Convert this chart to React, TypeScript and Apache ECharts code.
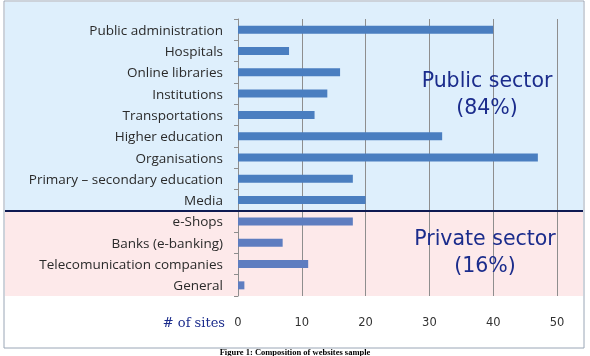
import React, { useEffect, useRef } from "react";
import * as echarts from "echarts";

const publicCategories = [
  "Public administration",
  "Hospitals",
  "Online libraries",
  "Institutions",
  "Transportations",
  "Higher education",
  "Organisations",
  "Primary – secondary education",
  "Media",
];
const publicValues = [40, 8, 16, 14, 12, 32, 47, 18, 20];

const privateCategories = [
  "e-Shops",
  "Banks (e-banking)",
  "Telecomunication companies",
  "General",
];
const privateValues = [18, 7, 11, 1];

const xTicks = [0, 10, 20, 30, 40, 50];

const publicLabel = ["Public sector", "(84%)"];
const privateLabel = ["Private sector", "(16%)"];
const axisTitle = "# of sites";
const caption = "Figure 1: Composition of websites sample";

export default function App() {
  const ref = useRef<HTMLDivElement>(null);
  useEffect(() => {
    if (!ref.current) return;
    const chart = echarts.init(ref.current, undefined, { renderer: "svg" });
    const categories = [...publicCategories, ...privateCategories];
    const data = [
      ...publicValues.map((v) => ({ value: v, itemStyle: { color: "#4A7EC0" } })),
      ...privateValues.map((v) => ({ value: v, itemStyle: { color: "#5E7DC0" } })),
    ];
    const navy = "#1B2C8C";
    chart.setOption({
      animation: false,
      grid: { left: 238, right: 33, top: 19, bottom: 60, containLabel: false },
      xAxis: {
        type: "value",
        min: xTicks[0],
        max: xTicks[xTicks.length - 1],
        interval: 10,
        axisLine: { show: false },
        axisTick: { show: false },
        splitLine: { show: true, lineStyle: { color: "#8E8E8E", width: 1 } },
        axisLabel: {
          margin: 20,
          color: "#333",
          fontFamily: "DejaVu Sans",
          fontSize: 11.5,
        },
      },
      yAxis: {
        type: "category",
        inverse: true,
        data: categories,
        axisLine: { show: true, lineStyle: { color: "#8E8E8E" } },
        axisTick: { show: true, length: 4, lineStyle: { color: "#8E8E8E" } },
        axisLabel: {
          margin: 15,
          color: "#2a2a2a",
          fontFamily: "Open Sans",
          fontSize: 13.5,
        },
      },
      graphic: [
        {
          type: "rect",
          z: -10,
          silent: true,
          shape: { x: 4, y: 1, width: 580, height: 347 },
          style: { fill: "#fff", stroke: "#9AA6B6", lineWidth: 1 },
        },
        {
          type: "rect",
          z: -9,
          silent: true,
          shape: { x: 5, y: 2, width: 578, height: 209 },
          style: { fill: "#DEEFFC" },
        },
        {
          type: "rect",
          z: -9,
          silent: true,
          shape: { x: 5, y: 211, width: 578, height: 85 },
          style: { fill: "#FDE9EA" },
        },
        {
          type: "line",
          z: 50,
          silent: true,
          shape: { x1: 5, y1: 211, x2: 583, y2: 211 },
          style: { stroke: "#0E1A52", lineWidth: 2 },
        },
        {
          type: "text",
          z: 60,
          x: 487,
          y: 93.5,
          style: {
            text: publicLabel.join("\n"),
            fill: navy,
            font: "20.5px 'DejaVu Sans'",
            align: "center",
            verticalAlign: "middle",
            lineHeight: 27,
          },
        },
        {
          type: "text",
          z: 60,
          x: 485,
          y: 251.5,
          style: {
            text: privateLabel.join("\n"),
            fill: navy,
            font: "20.5px 'DejaVu Sans'",
            align: "center",
            verticalAlign: "middle",
            lineHeight: 27,
          },
        },
        {
          type: "text",
          z: 60,
          x: 225,
          y: 322,
          style: {
            text: axisTitle,
            fill: navy,
            font: "13px 'DejaVu Serif'",
            align: "right",
            verticalAlign: "middle",
          },
        },
        {
          type: "text",
          z: 60,
          x: 295,
          y: 347,
          style: {
            text: caption,
            fill: "#000",
            font: "bold 8.5px 'Liberation Serif'",
            align: "center",
            verticalAlign: "top",
          },
        },
      ],
      series: [
        {
          type: "bar",
          data,
          barWidth: 8,
          z: 5,
        },
      ],
    });
    return () => chart.dispose();
  }, []);
  return (
    <div
      ref={ref}
      style={{ position: "fixed", left: 0, top: 0, width: 590, height: 356 }}
    />
  );
}
